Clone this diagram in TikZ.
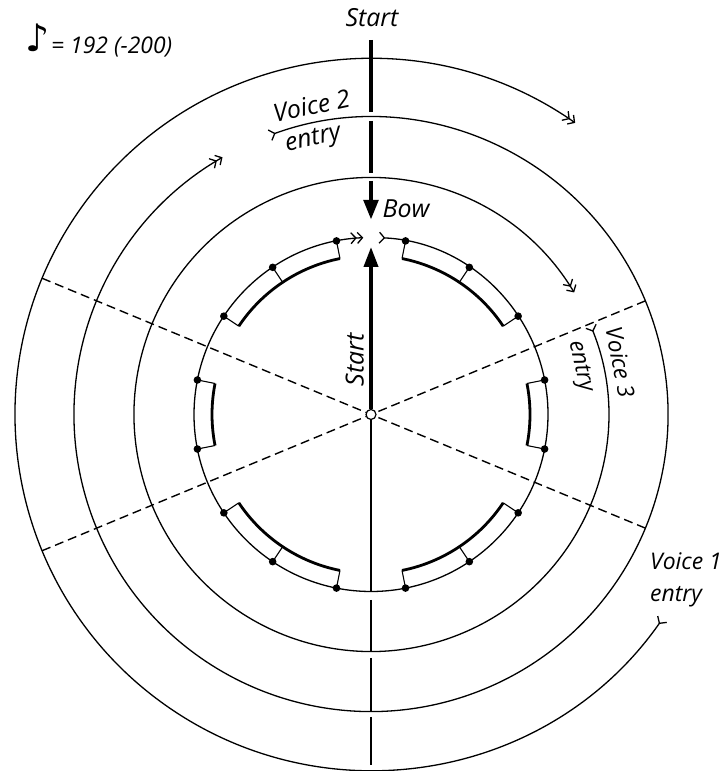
\documentclass[tikz,border=0pt]{standalone}
\usepackage{fontspec}
\setmainfont{Open Sans}
\newfontfamily\symfont{DejaVu Sans}
\usetikzlibrary{arrows.meta}
\begin{document}
\begin{tikzpicture}[x=1bp,y=1bp,
  ring/.style={line width=1.3bp},
  dashline/.style={line width=1.4bp, dash pattern=on 9bp off 5bp},
  beam/.style={line width=2.8bp},
  stem/.style={line width=1.1bp},
  thickline/.style={line width=4.8bp},
  upline/.style={line width=3.8bp},
  lbl/.style={font=\fontsize{25}{28}\selectfont\itshape, inner sep=0pt, text height=18bp, text depth=5bp},
  small/.style={font=\fontsize{23}{26}\selectfont\itshape, text height=16bp, text depth=4bp},
  tempo/.style={font=\fontsize{23}{26}\selectfont\itshape, inner sep=0pt},
  both/.style={{Straight Barb[reversed,length=5bp,width=11bp]}-{Straight Barb[length=5bp,width=11bp] Straight Barb[length=5bp,width=11bp]}},
  bigtip/.style={-{Triangle[length=20bp,width=14bp]}},
  notedot/.style={fill=black}
]
\useasboundingbox (0,0) rectangle (726,771);
\coordinate (C) at (371,356.5);
\begin{scope}[shift={(371,356.5)}]
  % dashed diameters
  \draw[dashline] (157.5:356) coordinate (dA1) -- (-22.5:297) coordinate (dA2);
  \draw[dashline] (202.5:356) coordinate (dB1) -- (22.5:297) coordinate (dB2);
  % rings with entries
  \draw[ring, both] (-35:356) coordinate (v1s) arc[start angle=-35, end angle=-305, radius=356bp];
  \draw[ring, both] (110:297) coordinate (v2s) arc[start angle=110, end angle=-240, radius=297bp];
  \draw[ring, both] (22:237) coordinate (v3s) arc[start angle=22, end angle=-329, radius=237bp];
  \draw[ring, both] (87.5:177) coordinate (bows) arc[start angle=87.5, end angle=-267.5, radius=177bp];
  % note groups: first, last angle
  \foreach \a/\b in {78.75/33.75, 11.25/-11.25, -33.75/-78.75, -101.25/-146.25, 168.75/191.25, 146.25/101.25}{
    \draw[beam] (\a:159) arc[start angle=\a, end angle=\b, radius=159bp];
    \draw[stem] (\a:177) -- (\a:159);
    \draw[stem] (\b:177) -- (\b:159);
    \fill[notedot] (\a:177) circle[radius=3.8bp];
    \fill[notedot] (\b:177) circle[radius=3.8bp];
  }
  \foreach \m in {56.25, -56.25, -123.75, 123.75}{
    \draw[stem] (\m:177) -- (\m:159);
    \fill[notedot] (\m:177) circle[radius=3.8bp];
  }
  % top thick start line with gaps
  \coordinate (t0) at (0,374.5);
  \coordinate (t1) at (0,302.5);
  \coordinate (t2) at (0,293.5);
  \coordinate (t3) at (0,241.5);
  \coordinate (t4) at (0,233.5);
  \coordinate (t5) at (0,194.5);
  \draw[thickline] (t0) -- (t1);
  \draw[thickline] (t2) -- (t3);
  \draw[thickline, bigtip] (t4) -- (t5);
  % bottom thin line with gaps
  \draw[ring] (0,-5) -- (0,-177.5);
  \draw[ring] (0,-185.5) -- (0,-237.5);
  \draw[ring] (0,-243.5) -- (0,-297.5);
  \draw[ring] (0,-302.5) -- (0,-350.5);
  % upward start arrow
  \coordinate (u0) at (0,5);
  \coordinate (u1) at (0,167.5);
  \draw[upline, bigtip] (u0) -- (u1);
  % centre
  \node[draw, line width=1.2bp, fill=white, circle, minimum size=10bp, inner sep=0pt] (ctr) at (0,0) {};
\end{scope}
% labels
\node[lbl] (startTop) at (372,751) {Start};
\node[lbl, rotate=90] (startUp) at (357,411) {Start};
\node[lbl] (bow) at (406,560) {Bow};
\node[lbl, rotate=12] (voice2) at (312,663) {Voice 2};
\node[lbl, rotate=12] (entry2) at (313,632) {entry};
\node[lbl, small, rotate=-79] (voice3) at (618,408) {Voice 3};
\node[lbl, small, rotate=-77] (entry3) at (581,405) {entry};
\node[lbl, small, anchor=west] (voice1) at (650,207) {Voice 1};
\node[lbl, small, anchor=west] (entry1) at (650,175) {entry};
\node[inner sep=0pt, font=\fontsize{38}{40}\selectfont\symfont] (note) at (38,733) {♪};
\node[tempo, anchor=west] (tempo) at (51,724) {= 192 (-200)};
\end{tikzpicture}
\end{document}
